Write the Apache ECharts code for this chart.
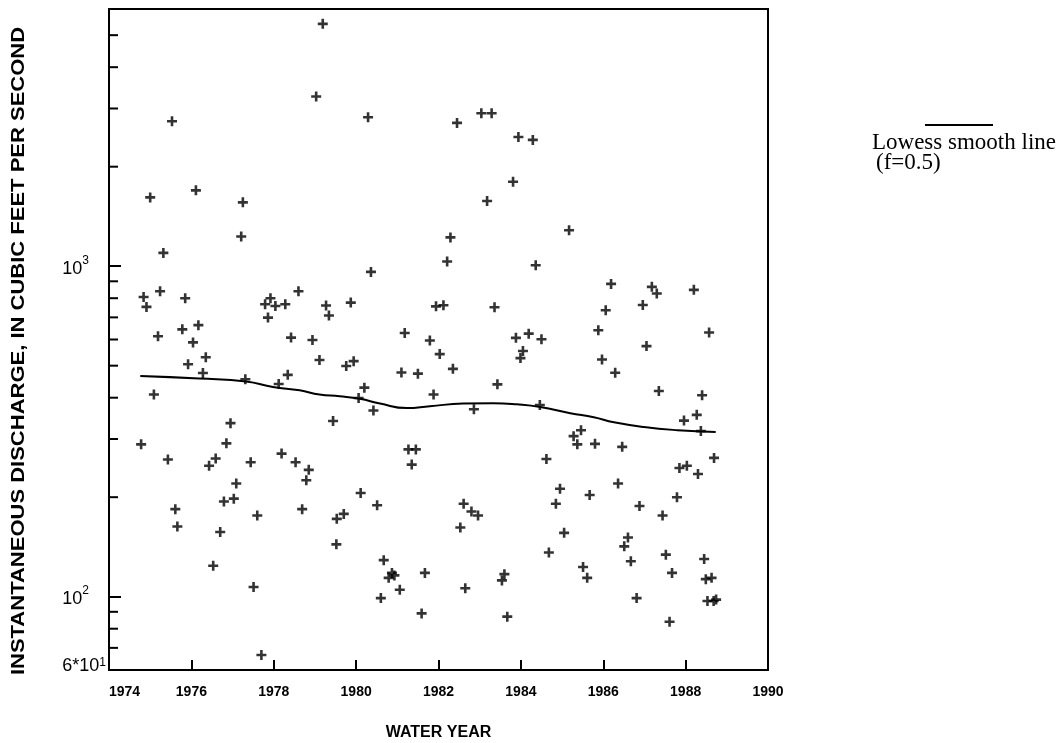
<!DOCTYPE html>
<html>
<head>
<meta charset="utf-8">
<script src="https://cdn.jsdelivr.net/npm/echarts@6/dist/echarts.min.js"></script>
<style>
  html, body { margin: 0; padding: 0; background: #fff; }
  #chart { width: 1064px; height: 743px; }
</style>
</head>
<body>
<div id="chart"></div>
<script>
// sampled peaks, water year (decimal) and discharge in cfs
const sampleYear = [
  1979.19, 1979.03, 1975.53, 1975.00, 1976.11, 1977.25, 1977.21, 1975.32, 1974.84, 1974.91,
  1975.24, 1975.85, 1975.19, 1975.78, 1976.17, 1976.04, 1976.35, 1975.92, 1976.28, 1975.09,
  1977.31, 1977.79, 1977.92, 1978.04, 1978.28, 1977.86, 1978.60, 1978.42, 1978.94, 1979.11,
  1978.34, 1978.12, 1979.27, 1979.34, 1979.44, 1974.78, 1976.95, 1976.85, 1975.43, 1976.59,
  1976.43, 1977.44, 1978.19, 1978.53, 1978.85, 1978.79, 1977.09, 1976.79, 1977.03, 1975.61,
  1975.66, 1977.60, 1978.69, 1976.70, 1976.53, 1977.51, 1979.53, 1979.52, 1977.70, 1980.29,
  1982.45, 1983.04, 1983.29, 1983.94, 1984.29, 1983.81, 1983.18, 1982.29, 1985.17, 1982.21,
  1980.36, 1984.36, 1979.87, 1981.94, 1982.12, 1983.36, 1981.18, 1981.79, 1982.03, 1982.35,
  1983.88, 1984.19, 1984.50, 1984.05, 1983.99, 1979.76, 1979.94, 1981.10, 1981.50, 1980.20,
  1980.06, 1980.42, 1981.88, 1983.43, 1982.86, 1984.46, 1981.27, 1981.45, 1981.35, 1984.62,
  1980.11, 1980.51, 1979.70, 1982.61, 1982.80, 1982.96, 1982.53, 1984.95, 1984.85, 1985.05,
  1984.68, 1980.67, 1980.87, 1980.93, 1980.79, 1981.67, 1981.06, 1980.60, 1982.65, 1981.59,
  1983.60, 1983.54, 1983.67, 1986.19, 1987.18, 1987.30, 1988.20, 1986.06, 1986.96, 1985.88,
  1988.57, 1987.05, 1985.97, 1986.29, 1987.35, 1988.40, 1988.27, 1987.96, 1988.37, 1985.46,
  1985.28, 1985.37, 1985.80, 1986.46, 1988.69, 1987.85, 1988.03, 1988.30, 1986.36, 1985.67,
  1986.88, 1987.79, 1987.44, 1986.60, 1986.51, 1986.67, 1985.51, 1985.61, 1987.52, 1987.67,
  1988.45, 1988.49, 1988.63, 1986.81, 1988.53, 1988.68, 1988.74, 1987.61
]
const sampleCfs = [
  5410, 3260, 2745, 1615, 1696, 1560, 1230, 1097, 807, 753,
  840, 800, 614, 644, 663, 588, 530, 505, 475, 409,
  455, 767, 800, 758, 767, 699, 840, 608, 598, 520,
  469, 440, 760, 709, 340, 289, 335, 291, 260, 262,
  249, 255, 271, 255, 242, 225, 220, 194, 198, 184,
  163, 176, 184, 157, 124, 107, 172, 144, 66.6, 2822,
  2713, 2902, 2902, 2460, 2410, 1800, 1574, 1222, 1285, 1033,
  961, 1007, 776, 756, 762, 751, 628, 596, 542, 489,
  607, 625, 601, 554, 527, 499, 516, 477, 473, 429,
  399, 366, 409, 439, 369, 380, 279, 279, 251, 261,
  206, 189, 178, 191, 181, 176, 162, 212, 191, 156,
  136, 129, 118, 116, 114, 118, 105, 99, 106, 89,
  117, 112, 87, 884, 866, 827, 848, 736, 763, 640,
  630, 573, 522, 476, 419, 407, 355, 341, 317, 319,
  306, 289, 290, 284, 263, 245, 249, 235, 220, 203,
  188, 200, 176, 151, 142, 128, 123, 114, 134, 118,
  130, 113, 114, 99, 97, 97, 98, 84
]

// lowess smooth line (f=0.5)
const lowessYear = [1974.76, 1976.19, 1977.33, 1977.98, 1978.63, 1979.11, 1979.60, 1980.09, 1980.58,
  1981.23, 1981.79, 1982.60, 1983.34, 1983.90, 1984.47, 1985.20, 1985.77, 1986.26, 1986.99, 1987.80, 1988.73]
const lowessCfs = [465, 457, 448, 431, 421, 409, 404, 397, 384,
  372, 377, 384, 385, 382, 375, 359, 349, 337, 326, 319, 315]

const minorTicks = [70, 80, 90, 200, 300, 400, 500, 600, 700, 800, 900, 2000, 3000, 4000, 5000]

const plusPath = 'path://M3.7,0H6.3V3.7H10V6.3H6.3V10H3.7V6.3H0V3.7H3.7Z'
const sans = '"Liberation Sans", Arial, sans-serif'
const serif = '"Liberation Serif", "Times New Roman", serif'

const chart = echarts.init(document.getElementById('chart'))

chart.setOption({
  backgroundColor: '#fff',
  animation: false,
  grid: {
    left: 109, right: 296, top: 9, bottom: 73,
    outerBoundsMode: 'none',
    show: true, borderColor: '#000', borderWidth: 2
  },
  xAxis: {
    type: 'value',
    min: 1974,
    max: 1990,
    interval: 2,
    name: 'WATER YEAR',
    nameLocation: 'middle',
    nameGap: 55,
    nameTextStyle: { fontFamily: sans, fontWeight: 'bold', fontSize: 16, color: '#000' },
    axisLine: { lineStyle: { color: '#000', width: 2 } },
    axisTick: { inside: true, length: 10, lineStyle: { color: '#000', width: 2 } },
    axisLabel: {
      color: '#000', fontFamily: sans, fontWeight: 'bold', fontSize: 14, margin: 15,
      alignMinLabel: 'left',
      formatter: v => String(v)
    },
    splitLine: { show: false }
  },
  yAxis: {
    type: 'log',
    logBase: 10,
    min: 60,
    max: 6000,
    axisLine: { lineStyle: { color: '#000', width: 2 } },
    axisTick: { inside: true, length: 12, lineStyle: { color: '#000', width: 2 } },
    axisLabel: {
      margin: 3,
      showMinLabel: true,
      showMaxLabel: false,
      formatter: function (v) {
        if (Math.abs(v - 60) < 1) return '{b|6*10}{s|1}'
        if (Math.abs(v - 100) < 1) return '{a|10}{s|2}{p| }'
        if (Math.abs(v - 1000) < 1) return '{a|10}{s|3}{p| }'
        return ''
      },
      rich: {
        a: { fontFamily: sans, fontSize: 18, color: '#000', padding: [5, 0, 0, 0] },
        b: { fontFamily: sans, fontSize: 18, color: '#000', padding: [0, 0, 8, 0] },
        s: { fontFamily: sans, fontSize: 12, color: '#000', verticalAlign: 'top' },
        p: { width: 17 }
      }
    },
    splitLine: { show: false }
  },
  graphic: [
    {
      type: 'text', x: 19, y: 351, rotation: Math.PI / 2, scaleY: 0.8,
      style: {
        text: 'INSTANTANEOUS DISCHARGE, IN CUBIC FEET PER SECOND',
        font: 'bold 22px ' + sans, fill: '#000',
        textAlign: 'center', textVerticalAlign: 'middle'
      }
    },
    {
      type: 'line',
      shape: { x1: 925, y1: 125, x2: 993, y2: 125 },
      style: { stroke: '#000', lineWidth: 2 }
    },
    {
      type: 'text', x: 872, y: 143,
      style: { text: 'Lowess smooth line', font: '23px ' + serif, fill: '#000', textVerticalAlign: 'middle' }
    },
    {
      type: 'text', x: 876, y: 163,
      style: { text: '(f=0.5)', font: '23px ' + serif, fill: '#000', textVerticalAlign: 'middle' }
    }
  ],
  series: [
    {
      name: 'Instantaneous discharge',
      type: 'scatter',
      symbol: plusPath,
      symbolSize: 10,
      itemStyle: { color: '#000' },
      data: sampleYear.map((yr, i) => [yr, sampleCfs[i]])
    },
    {
      name: 'Lowess smooth line',
      type: 'line',
      smooth: true,
      showSymbol: false,
      lineStyle: { color: '#000', width: 2 },
      data: lowessYear.map((yr, i) => [yr, lowessCfs[i]])
    },
    {
      // minor ticks on the log axis
      type: 'custom',
      silent: true,
      data: minorTicks.map(v => [1974, v]),
      renderItem: function (params, api) {
        const p = api.coord([api.value(0), api.value(1)])
        return {
          type: 'line',
          shape: { x1: p[0], y1: p[1], x2: p[0] + 9, y2: p[1] },
          style: { stroke: '#000', lineWidth: 2 }
        }
      }
    }
  ]
})
</script>
</body>
</html>
